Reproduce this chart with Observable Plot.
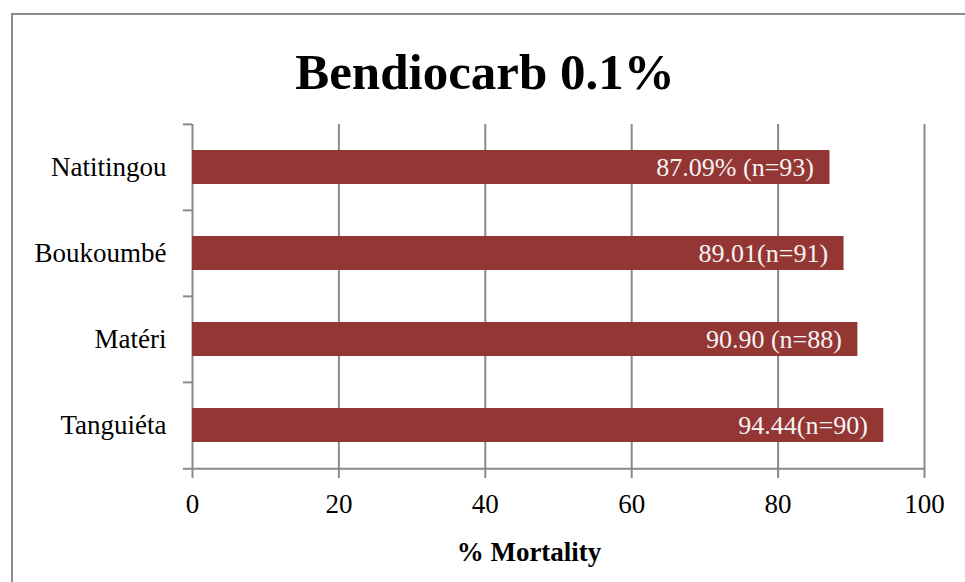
<!DOCTYPE html>
<html>
<head>
<meta charset="utf-8">
<script src="https://cdn.jsdelivr.net/npm/d3@7"></script>
<script src="https://cdn.jsdelivr.net/npm/@observablehq/plot@0.6"></script>
<style>
  html, body { margin: 0; padding: 0; background: #fff; }
  #wrap { position: relative; width: 965px; height: 582px; overflow: hidden; font-family: "Liberation Serif", serif; }
  #border { position: absolute; left: 11px; top: 13px; width: 1000px; height: 700px; border-left: 2px solid #8c8c8c; border-top: 2px solid #8c8c8c; box-sizing: border-box; }
  #title { position: absolute; left: 0; width: 970px; top: 47px; text-align: center; font-size: 51px; font-weight: bold; line-height: 1; color: #000; white-space: nowrap; }
  #xlabel { position: absolute; left: 529px; transform: translateX(-50%); top: 539px; font-size: 27px; font-weight: bold; line-height: 1; color: #000; white-space: nowrap; }
  #chart { position: absolute; left: 0; top: 0; }
</style>
</head>
<body>
<div id="wrap">
  <div id="border"></div>
  <div id="chart"></div>
  <div id="title">Bendiocarb 0.1%</div>
  <div id="xlabel">% Mortality</div>
</div>
<script>
const sites = ["Natitingou", "Boukoumbé", "Matéri", "Tanguiéta"];
const mortality = [87.09, 89.01, 90.90, 94.44];
const barLabels = ["87.09% (n=93)", "89.01(n=91)", "90.90 (n=88)", "94.44(n=90)"];
const xTicks = [0, 20, 40, 60, 80, 100];

const data = sites.map((s, i) => ({site: s, value: mortality[i], label: barLabels[i]}));

const W = 965, H = 582, mL = 192, mR = 41, mT = 124, mB = 113;
const step = (H - mT - mB) / sites.length;
const gray = "#8a8a8a";

const chart = Plot.plot({
  width: W,
  height: H,
  marginLeft: mL,
  marginRight: mR,
  marginTop: mT,
  marginBottom: mB,
  style: {fontFamily: "Liberation Serif, serif", fontSize: "26px", color: "#000", background: "transparent"},
  x: {domain: [0, 100], ticks: xTicks},
  y: {domain: sites, paddingInner: 0.6, paddingOuter: 0.3},
  marks: [
    Plot.ruleX(xTicks, {stroke: gray, strokeWidth: 2, insetBottom: -9}),
    Plot.ruleY(sites, {y: d => d, x1: 0, x2: 0, insetLeft: -9, dy: -step / 2, stroke: gray, strokeWidth: 2}),
    Plot.ruleY([sites[sites.length - 1]], {y: d => d, x1: 0, x2: 100, insetLeft: -9, dy: step / 2, stroke: gray, strokeWidth: 2}),
    Plot.barX(data, {x: "value", y: "site", fill: "#943634"}),
    Plot.text(data, {x: "value", y: "site", text: "label", textAnchor: "end", dx: -16, fill: "#f4f4f4", fontSize: 26}),
    Plot.axisX({ticks: xTicks, tickSize: 0, tickPadding: 24, fontSize: 27, label: null, tickFormat: d => String(d)}),
    Plot.axisY({tickSize: 0, tickPadding: 26, fontSize: 27, label: null})
  ]
});
document.getElementById("chart").appendChild(chart);
</script>
</body>
</html>
